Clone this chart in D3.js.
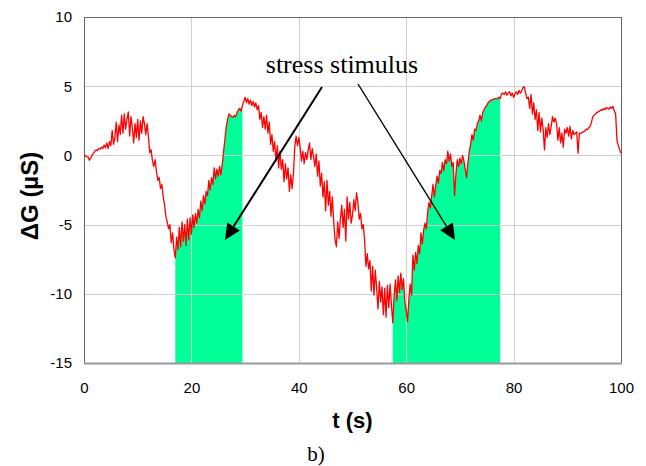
<!DOCTYPE html>
<html>
<head>
<meta charset="utf-8">
<script src="https://cdn.jsdelivr.net/npm/d3@7"></script>
<style>
  html, body { margin: 0; padding: 0; background: #fff; }
  svg { display: block; }
</style>
</head>
<body>
<svg id="chart" width="646" height="466"></svg>
<script>
// ---- DATA ----
// Skin conductance change ΔG (µS), sampled every 0.25 s from t = 0 to t = 100 s
const sampleStep = 0.25;
const deltaG = [
  -0.05, 0.0, -0.1, -0.1,
  -0.35, -0.2, 0.0, 0.15,
  0.3, 0.4, 0.35, 0.5,
  0.45, 0.6, 0.5, 0.75,
  0.55, 0.9, 0.5, 1.0,
  0.7, 1.8, 0.8, 1.3,
  2.4, 1.0, 2.2, 1.5,
  2.9, 1.6, 3.0, 1.9,
  2.6, 3.15, 1.4, 2.8,
  2.0, 0.9, 2.3, 1.3,
  2.6, 1.1, 2.5, 1.6,
  2.8, 2.3, 1.5, 2.3,
  1.3, 0.2, 0.4, -0.4,
  -0.8, -0.3, -1.2, -1.8,
  -1.6, -2.4, -2.1, -3.0,
  -3.6, -4.4, -4.8, -5.3,
  -5.0, -6.3, -5.6, -6.8,
  -7.4, -5.9, -6.8, -5.2,
  -6.6, -4.8, -6.2, -5.0,
  -6.5, -4.6, -6.1, -4.5,
  -5.7, -4.3, -5.2, -4.2,
  -4.9, -3.9, -4.5, -3.3,
  -4.0, -2.9, -3.5, -2.6,
  -2.9, -1.8, -2.5, -1.6,
  -2.1, -0.9, -1.7, -1.0,
  -1.5, -0.8, -1.4, -0.6,
  0.3, 1.2, 2.1, 2.6,
  3.0, 2.9, 2.8, 2.75,
  2.9, 2.8, 3.1, 3.3,
  3.4, 3.2, 3.6, 3.9,
  4.2, 3.8, 4.1, 3.7,
  4.0, 3.6, 3.9, 3.5,
  3.8, 3.3, 3.6, 2.6,
  3.1, 2.0, 2.8, 1.9,
  2.9, 1.6, 2.4, 0.8,
  1.5, 0.3, 1.0, -0.4,
  0.7, -0.9, 0.3, -1.0,
  -0.3, -1.9, -0.6, -1.7,
  -0.9, -2.6, -1.4, -2.4,
  -1.3, 0.6, 1.4, 0.7,
  1.3, 0.6, -0.4, 0.3,
  -0.6, 0.2, -0.3, 0.4,
  0.9, -0.3, 0.5, -0.1,
  -0.8, 0.1, -1.5, -0.4,
  -2.2, -1.3, -3.0, -1.9,
  -4.0, -1.8, -3.6, -2.6,
  -4.4, -3.0, -4.8, -6.1,
  -6.6, -4.8, -6.0, -4.6,
  -3.6, -5.2, -3.9, -6.2,
  -3.0, -4.6, -3.4, -4.9,
  -4.3, -3.2, -4.0, -2.7,
  -3.4, -4.6, -4.2, -5.3,
  -5.0, -6.1, -8.0, -7.1,
  -8.2, -7.6, -9.8, -8.0,
  -10.1, -8.3, -9.6, -11.1,
  -9.1, -10.6, -9.5, -11.5,
  -9.6, -11.7, -9.4, -11.0,
  -9.3, -10.8, -12.1, -10.2,
  -9.0, -10.5, -8.7, -9.9,
  -8.5, -9.7, -8.9, -10.6,
  -11.2, -12.0, -10.4, -9.3,
  -10.1, -7.2, -8.3, -7.0,
  -7.8, -6.5, -7.1, -5.6,
  -6.4, -5.4, -4.9, -5.3,
  -4.1, -3.4, -3.8, -2.9,
  -2.1, -3.0, -2.2, -1.5,
  -2.0, -1.1, -1.3, -0.5,
  -1.1, -0.3, -0.6, 0.3,
  -0.4, 0.1, -0.8, -0.5,
  -2.9, -1.4, -0.3, -0.8,
  -0.2, -0.6, 0.0, -0.4,
  -1.0, -1.6, -0.5, 0.3,
  0.8, 1.5, 1.1, 1.9,
  1.8, 2.3, 2.5, 2.9,
  2.5, 3.1, 3.3, 3.5,
  3.6, 3.8, 3.9, 4.0,
  4.0, 4.05, 4.1, 4.1,
  4.1, 4.2, 4.1, 4.45,
  4.5, 4.4, 4.6, 4.35,
  4.5, 4.6, 4.3, 4.5,
  4.2, 4.45, 4.6, 4.4,
  4.7, 4.5, 4.65, 4.9,
  4.95, 4.5, 4.1, 4.2,
  3.4, 4.4, 3.0, 3.8,
  2.6, 3.3, 1.8, 3.1,
  1.7, 2.7, 1.9, 0.4,
  2.0, 1.3, 2.3, 1.5,
  2.1, 2.8, 2.4, 2.7,
  2.3, 1.1, 2.0, 0.9,
  1.6, 0.6, 1.9, 1.6,
  2.0, 1.4, 2.1, 1.2,
  1.8, 1.5, 1.6, 1.7,
  0.15, 1.6, 1.6, 1.65,
  1.7, 1.75, 1.9, 1.85,
  2.0, 2.1, 2.4, 2.8,
  2.9, 3.0, 3.1, 3.15,
  3.2, 3.3, 3.25, 3.4,
  3.3, 3.45, 3.4, 3.35,
  3.5, 3.4, 3.55, 3.2,
  3.0, 1.1, 0.7, 0.4,
  0.15
];
// stress stimulus intervals (s)
const stimulusStart = [17.0, 57.5];
const stimulusEnd = [29.5, 77.5];
const xTicks = [0, 20, 40, 60, 80, 100];
const yTicks = [10, 5, 0, -5, -10, -15];
const annotationText = "stress stimulus";
const xTitle = "t (s)";
const yTitle = "\u0394G (\u00B5S)";
const panelLabel = "b)";

// ---- CHART ----
const svg = d3.select("#chart");
const pLeft = 84, pRight = 621, pTop = 17, pBottom = 363;
const x = d3.scaleLinear().domain([0, 100]).range([pLeft, pRight]);
const y = d3.scaleLinear().domain([-15, 10]).range([pBottom, pTop]);

const data = deltaG.map((v, i) => ({ t: i * sampleStep, v }));
const valueAt = t => {
  const i = Math.min(Math.floor(t / sampleStep), data.length - 2);
  const f = (t - data[i].t) / sampleStep;
  return data[i].v + f * (data[i + 1].v - data[i].v);
};

// stimulus fills
const area = d3.area().x(d => x(d.t)).y0(y(-15)).y1(d => y(d.v));
stimulusStart.forEach((a, k) => {
  const b = stimulusEnd[k];
  const pts = [{ t: a, v: valueAt(a) }]
    .concat(data.filter(d => d.t > a && d.t < b))
    .concat([{ t: b, v: valueAt(b) }]);
  svg.append("path").attr("d", area(pts)).attr("fill", "#00ff99");
});

// gridlines
const grid = svg.append("g");
xTicks.filter(t => t > 0 && t < 100).forEach(t => {
  grid.append("line").attr("x1", Math.round(x(t)) + 0.5).attr("x2", Math.round(x(t)) + 0.5)
    .attr("y1", pTop).attr("y2", pBottom).attr("stroke", "#d0d0d0").attr("stroke-width", 1);
});
yTicks.filter(t => t > -15 && t < 10).forEach(t => {
  grid.append("line").attr("y1", Math.round(y(t)) + 0.5).attr("y2", Math.round(y(t)) + 0.5)
    .attr("x1", pLeft).attr("x2", pRight).attr("stroke", "#d0d0d0").attr("stroke-width", 1);
});

// frame
svg.append("rect").attr("x", pLeft + 0.5).attr("y", pTop + 0.5)
  .attr("width", pRight - pLeft).attr("height", pBottom - pTop)
  .attr("fill", "none").attr("stroke", "#666").attr("stroke-width", 1);
svg.append("line").attr("x1", pLeft).attr("x2", pRight + 1).attr("y1", pBottom + 0.5).attr("y2", pBottom + 0.5)
  .attr("stroke", "#999").attr("stroke-width", 2);

// signal line
const line = d3.line().x(d => x(d.t)).y(d => y(d.v));
svg.append("path").datum(data).attr("d", line)
  .attr("fill", "none").attr("stroke", "#ff0000").attr("stroke-width", 1.3)
  .attr("stroke-linejoin", "round");

// axes (labels only, no tick marks); plain hyphen-minus for negatives
const fmt = d => String(d);
const xAxis = d3.axisBottom(x).tickValues(xTicks).tickSize(0).tickPadding(19).tickFormat(fmt);
const gx = svg.append("g").attr("transform", `translate(0,${pBottom})`).call(xAxis);
gx.select(".domain").remove();
gx.selectAll("text").attr("font-family", "Liberation Sans, Arial, sans-serif").attr("font-size", 15).attr("fill", "#000");

const yAxis = d3.axisLeft(y).tickValues(yTicks).tickSize(0).tickPadding(12).tickFormat(fmt);
const gy = svg.append("g").attr("transform", `translate(${pLeft},0)`).call(yAxis);
gy.select(".domain").remove();
gy.selectAll("text").attr("font-family", "Liberation Sans, Arial, sans-serif").attr("font-size", 15).attr("fill", "#000");

// axis titles
svg.append("text").attr("x", (pLeft + pRight) / 2).attr("y", 428).attr("text-anchor", "middle")
  .attr("font-family", "Liberation Sans, Arial, sans-serif").attr("font-weight", "bold").attr("font-size", 22)
  .text(xTitle);
svg.append("text").attr("transform", "translate(38,196) rotate(-90)").attr("text-anchor", "middle")
  .attr("font-family", "Liberation Sans, Arial, sans-serif").attr("font-weight", "bold").attr("font-size", 24)
  .text(yTitle);

// panel label
svg.append("text").attr("x", 316).attr("y", 461).attr("text-anchor", "middle")
  .attr("font-family", "Liberation Serif, Times New Roman, serif").attr("font-size", 21)
  .text(panelLabel);

// annotation
svg.append("text").attr("x", 342).attr("y", 73).attr("text-anchor", "middle")
  .attr("font-family", "Liberation Serif, Times New Roman, serif").attr("font-size", 26)
  .text(annotationText);

function arrow(x1, y1, x2, y2, w) {
  const ang = Math.atan2(y2 - y1, x2 - x1);
  const len = 16, half = 7.5;
  const bx = x2 - len * Math.cos(ang), by = y2 - len * Math.sin(ang);
  svg.append("line").attr("x1", x1).attr("y1", y1).attr("x2", bx).attr("y2", by)
    .attr("stroke", "#000").attr("stroke-width", w);
  const px = -Math.sin(ang) * half, py = Math.cos(ang) * half;
  svg.append("path")
    .attr("d", `M${x2},${y2}L${bx + px},${by + py}L${bx - px},${by - py}Z`)
    .attr("fill", "#000");
}
arrow(322, 87, 225, 240, 2);
arrow(358, 84, 455, 240, 1.4);
</script>
</body>
</html>
